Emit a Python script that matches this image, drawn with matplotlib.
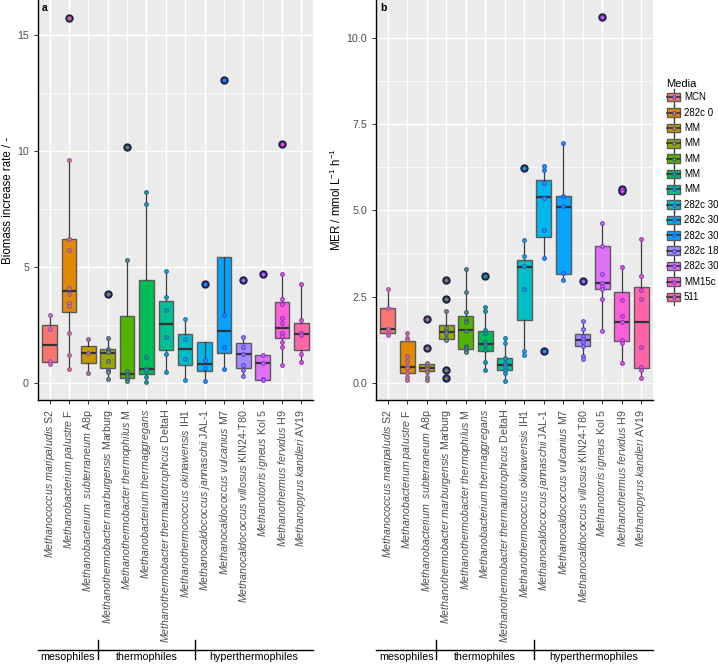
import matplotlib
matplotlib.use('Agg')
import matplotlib.pyplot as plt
import matplotlib.transforms as mtransforms
from matplotlib.legend_handler import HandlerBase
from matplotlib.patches import Rectangle
from matplotlib.lines import Line2D
import numpy as np

plt.rcParams['font.family'] = ['Liberation Sans', 'DejaVu Sans']
plt.rcParams['mathtext.fontset'] = 'custom'
plt.rcParams['mathtext.it'] = 'Liberation Sans:italic'
plt.rcParams['mathtext.rm'] = 'Liberation Sans'

######## data
genus_species = ['Methanococcus\\ maripaludis', 'Methanobacterium\\ palustre',
                 'Methanobacterium\\ \\ subterraneum', 'Methanothermobacter\\ marburgensis',
                 'Methanothermobacter\\ thermophilus', 'Methanobacterium\\ thermaggregans',
                 'Methanothermobacter\\ thermautotrophicus', 'Methanothermococcus\\ okinawensis',
                 'Methanocaldococcus\\ jannaschii', 'Methanocaldococcus\\ vulcanius',
                 'Methanocaldococcus\\ villosus', 'Methanotorris\\ igneus',
                 'Methanothermus\\ fervidus', 'Methanopyrus\\ kandleri']
strains = ['S2', 'F', 'A8p', 'Marburg', 'M', '', 'DeltaH', 'IH1', 'JAL-1', 'M7',
           'KIN24-T80', 'Kol 5', 'H9', 'AV19']
media = ['MCN', '282c 0', 'MM', 'MM', 'MM', 'MM', 'MM', '282c 30', '282c 30',
         '282c 30', '282c 18', '282c 30', 'MM15c', '511']
groups = ['mesophiles', 'thermophiles', 'hyperthermophiles']
group_sizes = [3, 5, 6]

# panel a: biomass increase rate
bio_points = [
    [2.93, 2.31, 0.92, 0.82],
    [15.73, 9.6, 6.21, 6.2, 5.72, 4.09, 3.81, 3.43, 3.32, 2.16, 1.18, 0.57],
    [1.90, 1.28, 0.40],
    [3.84, 1.91, 1.45, 1.38, 1.32, 0.95, 0.56, 0.45, 0.16],
    [10.14, 5.29, 0.52, 0.37, 0.30, 0.16, 0.06],
    [8.22, 7.69, 1.12, 0.59, 0.53, 0.24, 0.03],
    [4.80, 3.69, 3.12, 1.95, 1.24, 0.45],
    [2.74, 1.88, 1.02, 0.10],
    [4.25, 0.96, 0.63, 0.07],
    [13.03, 2.92, 1.52, 0.60],
    [4.44, 1.95, 1.52, 1.25, 0.75, 0.53, 0.30],
    [4.68, 1.18, 0.85, 0.16, 0.13],
    [10.29, 4.68, 3.59, 3.39, 2.80, 2.57, 2.13, 2.00, 1.75, 1.54, 0.76],
    [4.25, 2.70, 2.14, 2.05, 1.22, 0.89],
]
bio_q1 = [0.89, 3.03, 0.83, 0.63, 0.22, 0.39, 1.41, 0.78, 0.49, 1.29, 0.63, 0.13, 1.93, 1.41]
bio_med = [1.62, 3.95, 1.28, 1.29, 0.36, 0.59, 2.54, 1.44, 0.80, 2.21, 1.24, 0.85, 2.36, 2.11]
bio_q3 = [2.47, 6.19, 1.59, 1.44, 2.87, 4.41, 3.52, 2.10, 1.77, 5.43, 1.72, 1.18, 3.48, 2.57]
bio_lo = [0.82, 0.57, 0.40, 0.16, 0.06, 0.03, 0.45, 0.10, 0.07, 0.60, 0.30, 0.13, 0.76, 0.89]
bio_hi = [2.93, 9.6, 1.90, 1.91, 5.29, 8.22, 4.80, 2.74, 0.96, 2.92, 1.95, 1.18, 4.68, 4.25]

# panel b: methane evolution rate
mer_points = [
    [2.72, 2.18, 1.55, 1.43, 1.39],
    [1.44, 1.30, 1.25, 0.77, 0.64, 0.49, 0.44, 0.28, 0.16, 0.09],
    [1.85, 1.00, 0.57, 0.50, 0.44, 0.40, 0.30, 0.18, 0.09],
    [2.97, 2.44, 2.07, 1.60, 1.50, 1.43, 1.30, 1.25, 0.36, 0.13],
    [3.29, 2.62, 2.05, 1.81, 1.76, 1.51, 1.08, 1.01, 0.94, 0.88],
    [3.10, 2.19, 2.07, 1.54, 1.44, 1.17, 1.10, 0.96, 0.60, 0.36],
    [1.30, 1.15, 0.71, 0.57, 0.51, 0.46, 0.38, 0.28, 0.04],
    [6.22, 4.13, 3.69, 3.38, 2.72, 0.93, 0.81],
    [6.29, 6.17, 5.80, 5.39, 5.36, 4.43, 3.62, 0.91],
    [6.94, 5.43, 5.13, 3.17, 2.99],
    [2.95, 1.78, 1.56, 1.35, 1.27, 1.19, 1.08, 0.79, 0.68],
    [10.61, 4.63, 3.98, 3.15, 2.88, 2.82, 2.72, 2.42, 1.51],
    [5.63, 5.56, 3.37, 2.40, 1.94, 1.75, 1.23, 1.14, 0.58],
    [4.17, 3.09, 2.70, 2.44, 1.04, 0.46, 0.38, 0.13],
]
mer_q1 = [1.43, 0.29, 0.34, 1.27, 0.97, 0.91, 0.37, 1.82, 4.22, 3.16, 1.08, 2.71, 1.21, 0.43]
mer_med = [1.56, 0.47, 0.44, 1.46, 1.53, 1.11, 0.51, 3.35, 5.39, 5.11, 1.24, 2.88, 1.75, 1.75]
mer_q3 = [2.18, 1.20, 0.54, 1.67, 1.94, 1.50, 0.71, 3.55, 5.88, 5.43, 1.42, 3.98, 2.64, 2.79]
mer_lo = [1.39, 0.09, 0.09, 1.25, 0.88, 0.36, 0.04, 0.81, 3.62, 2.99, 0.68, 1.51, 0.58, 0.13]
mer_hi = [2.72, 1.44, 0.57, 2.07, 3.29, 2.19, 1.30, 4.13, 6.29, 6.94, 1.78, 4.63, 3.37, 4.17]

colors = ['#F8766D', '#E38900', '#C49A00', '#99A800', '#53B400', '#00BC56', '#00C094',
          '#00BFC4', '#00B6EB', '#06A4FF', '#A58AFF', '#DF70F8', '#FB61D7', '#FF66A8']
pt_edge = ['#8a4fc8', '#8a4fc8', '#6a4fb8', '#3a4fa8', '#3a4fa8', '#2a5fa8', '#2a5fb8',
           '#2a5fc8', '#2a4fd8', '#2a4fd8', '#5a40d0', '#7a38d0', '#8a30c8', '#8a30c8']

labels = []
for g, s in zip(genus_species, strains):
    labels.append('$\\it{' + g + '}$' + (' ' + s if s else ''))

FS = 7.7
fig = plt.figure(figsize=(7.18, 6.65), dpi=100)
ax_a = fig.add_axes([38/718, 1-400/665, 275/718, 400/665])
ax_b = fig.add_axes([376/718, 1-400/665, 277/718, 400/665])


def draw_panel(ax, pts, q1, med, q3, lo, hi, ylim, major, minor, ylabel, tag, ytfmt):
    x = np.arange(len(pts))
    ax.set_facecolor('#EBEBEB')
    ax.set_xlim(-0.6, len(pts) - 0.4)
    ax.set_ylim(*ylim)
    ax.set_yticks(major)
    ax.set_yticklabels([ytfmt % v for v in major], fontsize=FS, color='#4D4D4D')
    ax.set_yticks(minor, minor=True)
    ax.grid(True, which='major', color='white', lw=1.0, zorder=0)
    ax.grid(True, which='minor', axis='y', color='white', lw=0.5, zorder=0)
    ax.set_axisbelow(True)
    stats = []
    for i in range(len(pts)):
        fl = [v for v in pts[i] if v > hi[i] + 1e-9 or v < lo[i] - 1e-9]
        stats.append(dict(med=med[i], q1=q1[i], q3=q3[i], whislo=lo[i], whishi=hi[i], fliers=fl))
    bp = ax.bxp(stats, positions=x, widths=0.75, patch_artist=True, showcaps=False,
                boxprops=dict(edgecolor='#5a5a5a', lw=1.0),
                whiskerprops=dict(color='#3a3a3a', lw=0.9),
                medianprops=dict(color='#333333', lw=1.6),
                flierprops=dict(marker='o', markersize=5, markerfacecolor='#1c1c3c',
                                markeredgecolor='#1c1c3c'))
    for patch, c in zip(bp['boxes'], colors):
        patch.set_facecolor(c)
    for i in range(len(pts)):
        ax.scatter([x[i]]*len(pts[i]), pts[i], s=7, facecolor=colors[i], edgecolor=pt_edge[i],
                   lw=0.8, zorder=5)
    ax.set_xticks(x)
    ax.set_xticklabels(labels, rotation=90, fontsize=FS, color='#4D4D4D')
    ax.tick_params(axis='both', which='major', length=3, width=0.7, color='#333333')
    ax.tick_params(axis='y', which='minor', length=0)
    for s in ['top', 'right']:
        ax.spines[s].set_visible(False)
    for s in ['left', 'bottom']:
        ax.spines[s].set_color('black')
        ax.spines[s].set_linewidth(1.0)
    ax.set_ylabel(ylabel, fontsize=8.3, labelpad=2)
    ax.text(0.015, 0.992, tag, transform=ax.transAxes, fontsize=7.5, fontweight='bold',
            va='top', ha='left')
    # temperature groups below the labels
    tr = mtransforms.blended_transform_factory(ax.transData, fig.transFigure)
    x0, x1 = ax.get_xlim()
    ax.add_line(Line2D([x0, x1], [1-650/665]*2, transform=tr, color='black', lw=1.0, clip_on=False))
    edges = np.concatenate([[x0], np.cumsum(group_sizes)[:-1] - 0.5, [x1]])
    for e in edges[1:-1]:
        ax.add_line(Line2D([e, e], [1-640/665, 1-659/665], transform=tr, color='black', lw=1.0,
                           clip_on=False))
    for g, a, b in zip(groups, edges[:-1], edges[1:]):
        ax.text((a + b)/2, 1-652/665, g, transform=tr, ha='center', va='top', fontsize=FS)


draw_panel(ax_a, bio_points, bio_q1, bio_med, bio_q3, bio_lo, bio_hi, (-0.75, 16.5),
           [0, 5, 10, 15], [2.5, 7.5, 12.5], 'Biomass increase rate / -', 'a', '%g')
draw_panel(ax_b, mer_points, mer_q1, mer_med, mer_q3, mer_lo, mer_hi, (-0.5, 11.1),
           [0, 2.5, 5, 7.5, 10], [1.25, 3.75, 6.25, 8.75],
           'MER / mmol L$^{\\mathregular{-1}}$ h$^{\\mathregular{-1}}$', 'b', '%.1f')


class BoxKey(HandlerBase):
    def create_artists(self, legend, orig, xd, yd, width, height, fontsize, trans):
        c = orig.get_facecolor()
        cx = -xd + width/2
        cy = -yd + height/2
        whisk = Line2D([cx, cx], [-yd - 1, -yd + height + 1], color='#3a3a3a', lw=0.9, transform=trans)
        box = Rectangle((-xd + 1, -yd + height*0.2), width - 2, height*0.6, facecolor=c,
                        edgecolor='#5a5a5a', lw=1.0, transform=trans)
        mline = Line2D([-xd + 1, -xd + width - 1], [cy, cy], color='#333333', lw=1.2, transform=trans)
        dot = Line2D([cx], [cy], marker='o', markersize=2.6, markerfacecolor=c,
                     markeredgecolor='#4a3fc0', mew=0.7, transform=trans)
        return [whisk, box, mline, dot]


handles = [Rectangle((0, 0), 1, 1, facecolor=c) for c in colors]
leg = fig.legend(handles, media, loc='upper left', bbox_to_anchor=(666/718, 1-79/665),
                 frameon=False, title='Media', fontsize=7.0, title_fontsize=8,
                 handler_map={Rectangle: BoxKey()}, handlelength=1.55, handleheight=1.9,
                 labelspacing=0.1, handletextpad=0.3, borderpad=0, borderaxespad=0)
leg._legend_box.align = 'left'

fig.savefig('out.png', dpi=100)
